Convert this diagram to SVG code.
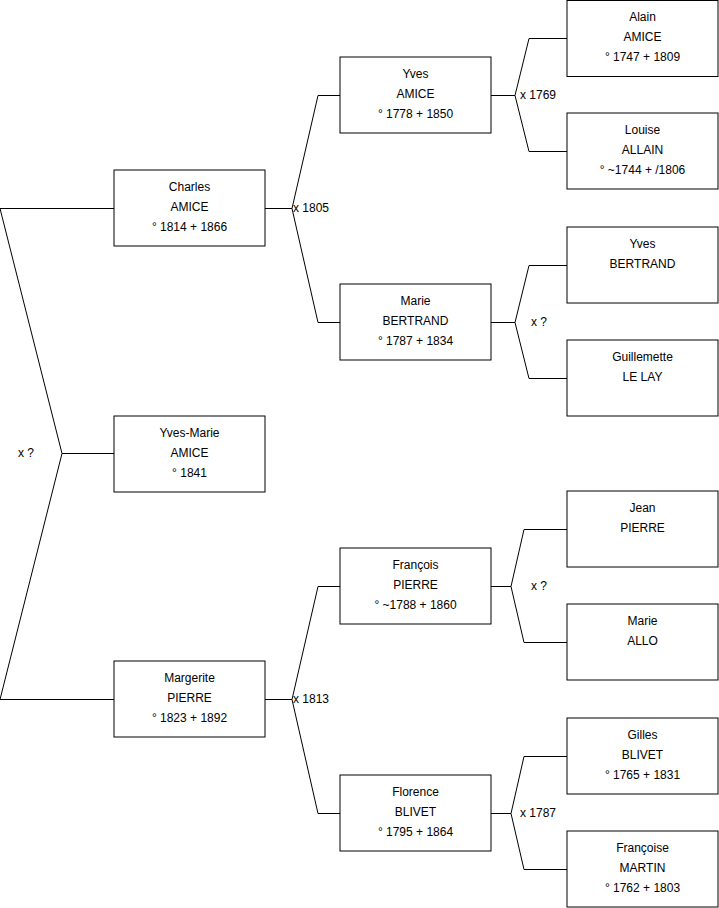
<svg xmlns="http://www.w3.org/2000/svg" width="719" height="908" viewBox="0 0 719 908">
<style>
.box{fill:#fff;stroke:#000;stroke-width:1}
.t{font-family:"Liberation Sans",Arial,sans-serif;font-size:12px;fill:#000;text-anchor:middle}
.l{font-family:"Liberation Sans",Arial,sans-serif;font-size:12px;fill:#000}
.c{fill:none;stroke:#000;stroke-width:1}
</style>
<rect width="719" height="908" fill="#fff"/>
<g id="connectors">
<path class="c" d="M0,208.5 H114 M0,208.5 L62,453.5 H114 M62,453.5 L0,699.5 H114"/>
<path class="c" d="M265,208.5 H292 L318,95.5 H340 M292,208.5 L318,322.5 H340"/>
<path class="c" d="M265,699.5 H292 L318,586.5 H340 M292,699.5 L318,813.5 H340"/>
<path class="c" d="M491,95.5 H515 L529,38.5 H567 M515,95.5 L529,151.5 H567"/>
<path class="c" d="M491,322.5 H515 L529,265.5 H567 M515,322.5 L529,378.5 H567"/>
<path class="c" d="M491,586.5 H511 L524,529.5 H567 M511,586.5 L524,642.5 H567"/>
<path class="c" d="M491,813.5 H511 L524,756.5 H567 M511,813.5 L524,869.5 H567"/>
<text class="l" x="18" y="457">x ?</text>
<text class="l" x="293" y="212">x 1805</text>
<text class="l" x="293" y="703">x 1813</text>
<text class="l" x="520" y="99">x 1769</text>
<text class="l" x="531" y="326">x ?</text>
<text class="l" x="531" y="590">x ?</text>
<text class="l" x="520" y="817">x 1787</text>
</g>
<g id="charles"><rect class="box" x="114" y="170" width="151" height="76"/><text class="t" x="189.5" y="191">Charles</text><text class="t" x="189.5" y="211">AMICE</text><text class="t" x="189.5" y="231">° 1814 + 1866</text></g>
<g id="yvesmarie"><rect class="box" x="114" y="416" width="151" height="76"/><text class="t" x="189.5" y="437">Yves-Marie</text><text class="t" x="189.5" y="457">AMICE</text><text class="t" x="189.5" y="477">° 1841</text></g>
<g id="margerite"><rect class="box" x="114" y="661" width="151" height="76"/><text class="t" x="189.5" y="682">Margerite</text><text class="t" x="189.5" y="702">PIERRE</text><text class="t" x="189.5" y="722">° 1823 + 1892</text></g>
<g id="yves"><rect class="box" x="340" y="57" width="151" height="76"/><text class="t" x="415.5" y="78">Yves</text><text class="t" x="415.5" y="98">AMICE</text><text class="t" x="415.5" y="118">° 1778 + 1850</text></g>
<g id="marie"><rect class="box" x="340" y="284" width="151" height="76"/><text class="t" x="415.5" y="305">Marie</text><text class="t" x="415.5" y="325">BERTRAND</text><text class="t" x="415.5" y="345">° 1787 + 1834</text></g>
<g id="francois"><rect class="box" x="340" y="548" width="151" height="76"/><text class="t" x="415.5" y="569">François</text><text class="t" x="415.5" y="589">PIERRE</text><text class="t" x="415.5" y="609">° ~1788 + 1860</text></g>
<g id="florence"><rect class="box" x="340" y="775" width="151" height="76"/><text class="t" x="415.5" y="796">Florence</text><text class="t" x="415.5" y="816">BLIVET</text><text class="t" x="415.5" y="836">° 1795 + 1864</text></g>
<g id="alain"><rect class="box" x="567" y="0.5" width="151" height="76"/><text class="t" x="642.5" y="21">Alain</text><text class="t" x="642.5" y="41">AMICE</text><text class="t" x="642.5" y="61">° 1747 + 1809</text></g>
<g id="louise"><rect class="box" x="567" y="113" width="151" height="76"/><text class="t" x="642.5" y="134">Louise</text><text class="t" x="642.5" y="154">ALLAIN</text><text class="t" x="642.5" y="174">° ~1744 + /1806</text></g>
<g id="yvesbertrand"><rect class="box" x="567" y="227" width="151" height="76"/><text class="t" x="642.5" y="248">Yves</text><text class="t" x="642.5" y="268">BERTRAND</text></g>
<g id="guillemette"><rect class="box" x="567" y="340" width="151" height="76"/><text class="t" x="642.5" y="361">Guillemette</text><text class="t" x="642.5" y="381">LE LAY</text></g>
<g id="jean"><rect class="box" x="567" y="491" width="151" height="76"/><text class="t" x="642.5" y="512">Jean</text><text class="t" x="642.5" y="532">PIERRE</text></g>
<g id="marieallo"><rect class="box" x="567" y="604" width="151" height="76"/><text class="t" x="642.5" y="625">Marie</text><text class="t" x="642.5" y="645">ALLO</text></g>
<g id="gilles"><rect class="box" x="567" y="718" width="151" height="76"/><text class="t" x="642.5" y="739">Gilles</text><text class="t" x="642.5" y="759">BLIVET</text><text class="t" x="642.5" y="779">° 1765 + 1831</text></g>
<g id="francoise"><rect class="box" x="567" y="831" width="151" height="76"/><text class="t" x="642.5" y="852">Françoise</text><text class="t" x="642.5" y="872">MARTIN</text><text class="t" x="642.5" y="892">° 1762 + 1803</text></g>
</svg>
